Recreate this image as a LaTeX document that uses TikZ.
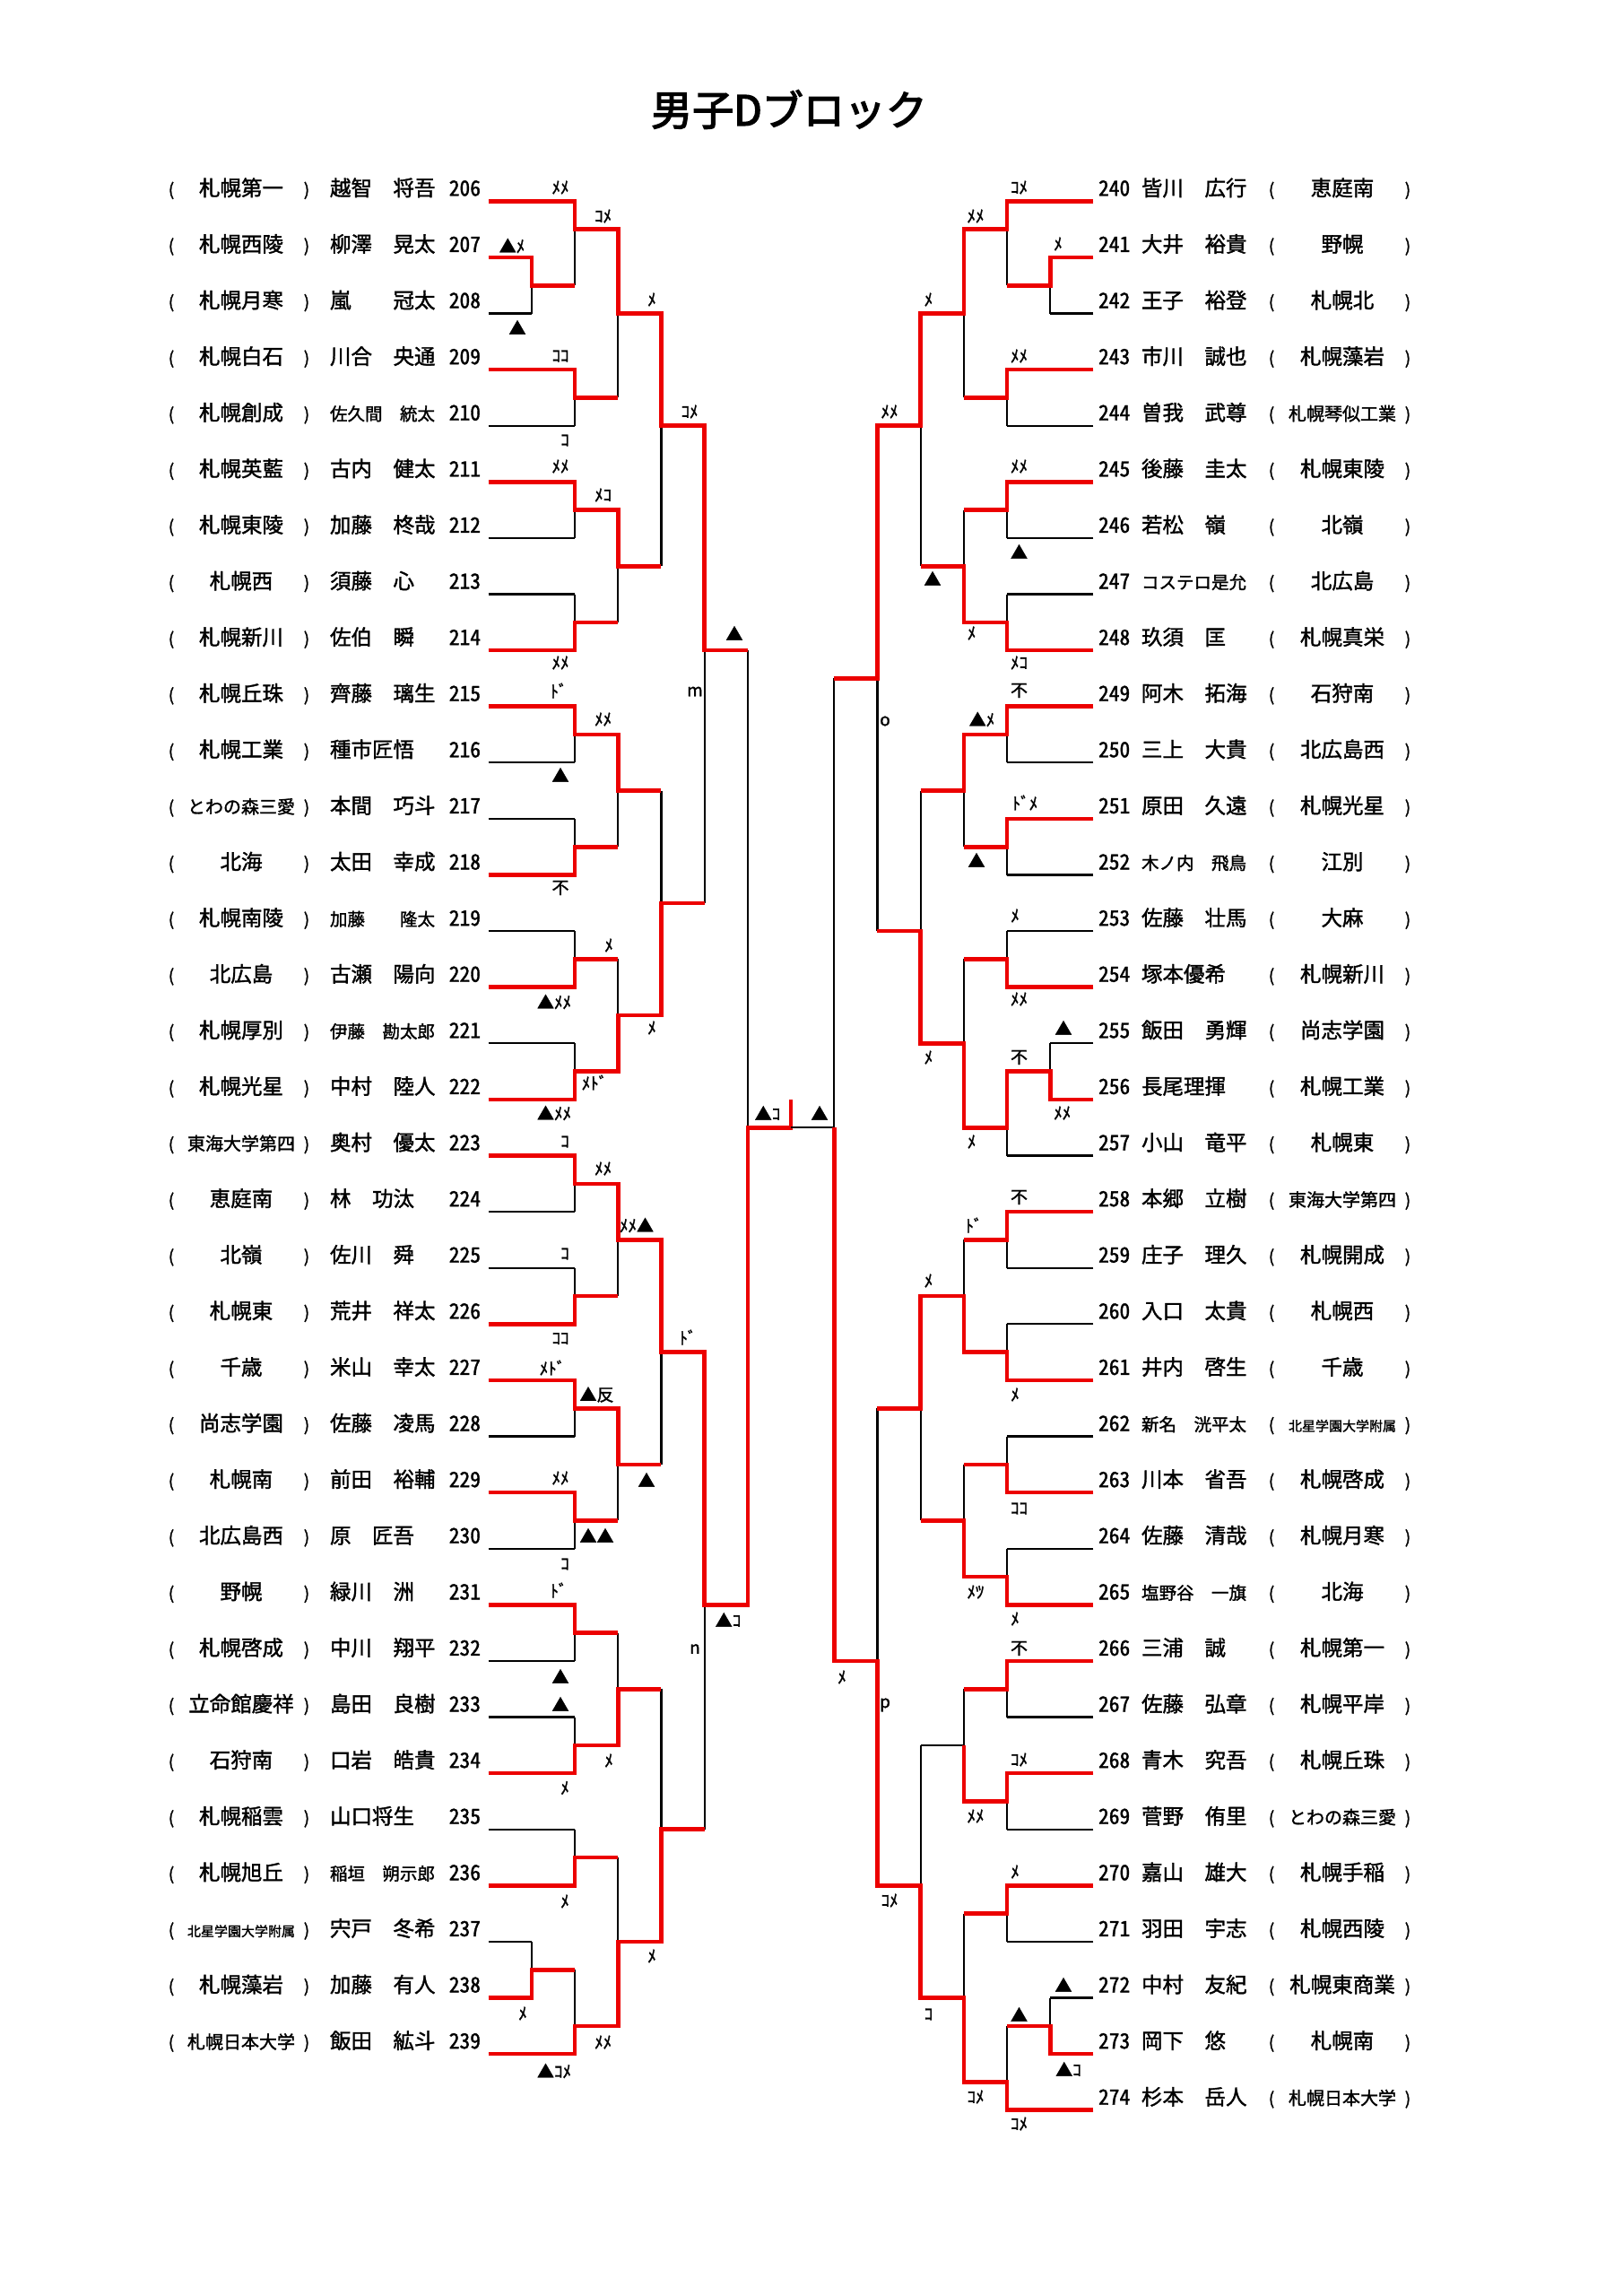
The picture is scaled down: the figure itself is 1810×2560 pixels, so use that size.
\documentclass[tikz,border=0pt]{standalone}
\usepackage{fontspec}
\setmainfont{Noto Sans CJK JP}[FakeBold=1.5]
\newfontfamily\numfont[RawFeature=+hwid,FakeBold=1.5]{Noto Sans CJK JP}
\newfontfamily\titlefont[FakeBold=3]{Noto Sans CJK JP}
\definecolor{redc}{RGB}{236,0,0}
\tikzset{
  rd/.style={draw=redc, line width=2.3pt, line join=miter},
  blk/.style={draw=black, line width=1.1pt},
  tx/.style={inner sep=0pt, outer sep=0pt},
  lbl/.style={inner sep=0pt, outer sep=0pt, anchor=center, font=\fontsize{9.5pt}{10pt}\selectfont},
}
\newcommand\lrow[5]{%
  \pgfmathsetmacro\yy{224.3+62.6*(#1-206)-6}
  \node[tx,anchor=base,font=\fontsize{9.5pt}{10pt}\selectfont] (lpo#1) at (191,\yy) {(};
  \node[tx,anchor=base,font=\fontsize{#2}{#2}\selectfont] (lsc#1) at (269,\yy) {#3};
  \node[tx,anchor=base,font=\fontsize{9.5pt}{10pt}\selectfont] (lpc#1) at (342,\yy) {)};
  \node[tx,anchor=base west,font=\fontsize{#4}{#4}\selectfont] (lnm#1) at (368,\yy) {#5};
  \node[tx,anchor=base east,font=\numfont\fontsize{11.75pt}{12pt}\selectfont] (lno#1) at (536,\yy) {#1};
}
\newcommand\rrow[5]{%
  \pgfmathsetmacro\yy{224.3+62.6*(#1-240)-6}
  \node[tx,anchor=base west,font=\numfont\fontsize{11.75pt}{12pt}\selectfont] (rno#1) at (1225,\yy) {#1};
  \node[tx,anchor=base west,font=\fontsize{#2}{#2}\selectfont] (rnm#1) at (1273,\yy) {#3};
  \node[tx,anchor=base,font=\fontsize{9.5pt}{10pt}\selectfont] (rpo#1) at (1418,\yy) {(};
  \node[tx,anchor=base,font=\fontsize{#4}{#4}\selectfont] (rsc#1) at (1497,\yy) {#5};
  \node[tx,anchor=base,font=\fontsize{9.5pt}{10pt}\selectfont] (rpc#1) at (1570,\yy) {)};
}
\begin{document}
\begin{tikzpicture}[x=0.5pt,y=-0.5pt]
\useasboundingbox (0,0) rectangle (1810,2560);
\fill[white] (0,0) rectangle (1810,2560);

\node[tx,font=\titlefont\fontsize{23pt}{24pt}\selectfont] (title) at (880,122) {男子Dブロック};

% ---------------- LEFT BRACKET ----------------
\begin{scope}[shift={(882,224.3)},x=-24.1pt,y=-15.65pt]
\foreach \k/\p in {0/5,2/6,4/6,6/5,8/5,10/5,12/5,14/5,16/5,18/5,20/5,22/5,24/5,26/5,28/5,30/5,32/5,34/5,36/5,38/5,40/5,42/5,44/5,46/5,48/5,50/5,52/5,54/5,56/5,58/5,60/5,62/6,64/6,66/5}
  \draw[blk] (7,\k) -- (\p,\k);
\foreach \p/\a/\b/\o in {6/2/4/3, 6/62/64/63,
  5/0/3/1, 5/6/8/7, 5/10/12/11, 5/14/16/15, 5/18/20/19, 5/22/24/23, 5/26/28/27, 5/30/32/31,
  5/34/36/35, 5/38/40/39, 5/42/44/43, 5/46/48/47, 5/50/52/51, 5/54/56/55, 5/58/60/59, 5/63/66/65,
  4/1/7/4, 4/11/15/13, 4/19/23/21, 4/27/31/29, 4/35/39/37, 4/43/47/45, 4/51/55/53, 4/59/65/62,
  3/4/13/8, 3/21/29/25, 3/37/45/41, 3/53/62/58,
  2/8/25/16, 2/41/58/50,
  1/16/50/33}
  \draw[blk] (\p,\a) -- (\p,\b) (\p,\o) -- ({\p-1},\o);
\draw[rd] (7,0) -- (5,0) -- (5,1) -- (4,1) -- (4,4) -- (3,4) -- (3,8) -- (2,8) -- (2,16) -- (1,16);
\draw[rd] (7,2) -- (6,2) -- (6,3) -- (5,3);
\draw[rd] (7,6) -- (5,6) -- (5,7) -- (4,7);
\draw[rd] (7,10) -- (5,10) -- (5,11) -- (4,11) -- (4,13) -- (3,13);
\draw[rd] (7,16) -- (5,16) -- (5,15) -- (4,15);
\draw[rd] (7,18) -- (5,18) -- (5,19) -- (4,19) -- (4,21) -- (3,21);
\draw[rd] (7,24) -- (5,24) -- (5,23) -- (4,23);
\draw[rd] (7,28) -- (5,28) -- (5,27) -- (4,27);
\draw[rd] (7,32) -- (5,32) -- (5,31) -- (4,31) -- (4,29) -- (3,29) -- (3,25) -- (2,25);
\draw[rd] (7,34) -- (5,34) -- (5,35) -- (4,35) -- (4,37) -- (3,37) -- (3,41) -- (2,41) -- (2,50) -- (1,50) -- (1,33) -- (0,33) -- (0,32);
\draw[rd] (7,40) -- (5,40) -- (5,39) -- (4,39);
\draw[rd] (7,42) -- (5,42) -- (5,43) -- (4,43) -- (4,45) -- (3,45);
\draw[rd] (7,46) -- (5,46) -- (5,47) -- (4,47);
\draw[rd] (7,50) -- (5,50) -- (5,51) -- (4,51);
\draw[rd] (7,56) -- (5,56) -- (5,55) -- (4,55) -- (4,53) -- (3,53);
\draw[rd] (7,60) -- (5,60) -- (5,59) -- (4,59);
\draw[rd] (7,64) -- (6,64) -- (6,63) -- (5,63);
\draw[rd] (7,66) -- (5,66) -- (5,65) -- (4,65) -- (4,62) -- (3,62) -- (3,58) -- (2,58);
\end{scope}

% ---------------- RIGHT BRACKET ----------------
\begin{scope}[shift={(882,224.3)},x=24.1pt,y=-15.65pt]
\foreach \k/\q in {0/5,2/6,4/6,6/5,8/5,10/5,12/5,14/5,16/5,18/5,20/5,22/5,24/5,26/5,28/5,30/6,32/6,34/5,36/5,38/5,40/5,42/5,44/5,46/5,48/5,50/5,52/5,54/5,56/5,58/5,60/5,62/5,64/6,66/6,68/5}
  \draw[blk] (7,\k) -- (\q,\k);
\foreach \p/\a/\b/\o in {6/2/4/3, 6/30/32/31, 6/64/66/65,
  5/0/3/1, 5/6/8/7, 5/10/12/11, 5/14/16/15, 5/18/20/19, 5/22/24/23, 5/26/28/27, 5/31/34/33,
  5/36/38/37, 5/40/42/41, 5/44/46/45, 5/48/50/49, 5/52/54/53, 5/56/58/57, 5/60/62/61, 5/65/68/67,
  4/1/7/4, 4/11/15/13, 4/19/23/21, 4/27/33/30, 4/37/41/39, 4/45/49/47, 4/53/57/55, 4/61/67/64,
  3/4/13/8, 3/21/30/26, 3/39/47/43, 3/55/64/60,
  2/8/26/17, 2/43/60/52,
  1/17/52/33}
  \draw[blk] (\p,\a) -- (\p,\b) (\p,\o) -- ({\p-1},\o);
\draw[rd] (7,0) -- (5,0) -- (5,1) -- (4,1) -- (4,4) -- (3,4) -- (3,8) -- (2,8) -- (2,17) -- (1,17);
\draw[rd] (7,2) -- (6,2) -- (6,3) -- (5,3);
\draw[rd] (7,6) -- (5,6) -- (5,7) -- (4,7);
\draw[rd] (7,10) -- (5,10) -- (5,11) -- (4,11);
\draw[rd] (7,16) -- (5,16) -- (5,15) -- (4,15) -- (4,13) -- (3,13);
\draw[rd] (7,18) -- (5,18) -- (5,19) -- (4,19) -- (4,21) -- (3,21);
\draw[rd] (7,22) -- (5,22) -- (5,23) -- (4,23);
\draw[rd] (7,28) -- (5,28) -- (5,27) -- (4,27);
\draw[rd] (7,32) -- (6,32) -- (6,31) -- (5,31) -- (5,33) -- (4,33) -- (4,30) -- (3,30) -- (3,26) -- (2,26);
\draw[rd] (7,36) -- (5,36) -- (5,37) -- (4,37);
\draw[rd] (7,42) -- (5,42) -- (5,41) -- (4,41) -- (4,39) -- (3,39) -- (3,43) -- (2,43);
\draw[rd] (7,46) -- (5,46) -- (5,45) -- (4,45);
\draw[rd] (7,50) -- (5,50) -- (5,49) -- (4,49) -- (4,47) -- (3,47);
\draw[rd] (7,52) -- (5,52) -- (5,53) -- (4,53);
\draw[rd] (7,56) -- (5,56) -- (5,57) -- (4,57) -- (4,55);
\draw[rd] (7,60) -- (5,60) -- (5,61) -- (4,61);
\draw[rd] (7,66) -- (6,66) -- (6,65) -- (5,65);
\draw[rd] (7,68) -- (5,68) -- (5,67) -- (4,67) -- (4,64) -- (3,64) -- (3,60) -- (2,60) -- (2,52) -- (1,52) -- (1,33);
\end{scope}

% ---------------- LABELS ----------------
\foreach \x/\y/\t [count=\i] in {625/209/ﾒﾒ, 672.6/241/ｺﾒ, 571/274/▲ﾒ, 577/365/▲, 727/334/ﾒ, 625/397/ｺｺ, 630/491/ｺ, 769/459/ｺﾒ,
  625/520/ﾒﾒ, 672.6/552/ﾒｺ, 819/706/▲, 625/739/ﾒﾒ, 623/770/ﾄﾞ, 672.6/802/ﾒﾒ, 625/864/▲, 775/771/m,
  625/990/不, 679/1054/ﾒ, 618/1117/▲ﾒﾒ, 727/1146/ﾒ, 663/1207/ﾒﾄﾞ, 618/1241/▲ﾒﾒ, 630/1273/ｺ, 672.6/1303/ﾒﾒ,
  710/1366/ﾒﾒ▲, 630/1398/ｺ, 625/1492.5/ｺｺ, 767/1491/ﾄﾞ, 616/1525/ﾒﾄﾞ, 665.5/1555/▲反, 625/1648/ﾒﾒ, 721/1650/▲,
  665.5/1712/▲▲, 630/1744/ｺ, 623/1773/ﾄﾞ, 812/1806/▲ｺ, 775/1838.5/n, 625/1869/▲, 625/1900/▲, 679/1963/ﾒ,
  630/1993.5/ﾒ, 630/2120/ﾒ, 727/2181/ﾒ, 583/2245/ﾒ, 672.6/2277/ﾒﾒ, 618/2309/▲ｺﾒ, 856/1241/▲ｺ}
  \node[lbl] (ll\i) at (\x,\y) {\t};
\foreach \x/\y/\t [count=\i] in {1136.5/209/ｺﾒ, 1088/241/ﾒﾒ, 1180/272/ﾒ, 1035.5/334/ﾒ, 1136.5/397/ﾒﾒ, 992/459/ﾒﾒ,
  1136.5/520/ﾒﾒ, 1136.5/615/▲, 1040/645/▲, 1083.6/706/ﾒ, 1136.5/739/ﾒｺ, 1136.5/770/不, 1095/802/▲ﾒ, 987/804/o,
  1143/895/ﾄﾞﾒ, 1089/959/▲, 1132/1021/ﾒ, 1136.5/1114/ﾒﾒ, 1186/1146/▲, 1136.5/1179/不, 1035.5/1179/ﾒ,
  1184.7/1241/ﾒﾒ, 1083.6/1273/ﾒ, 1136.5/1335/不, 1086/1366/ﾄﾞ, 1035.5/1428/ﾒ, 1132/1555/ﾒ, 1136.5/1682/ｺｺ,
  1088/1775/ﾒﾂ, 1132/1805/ﾒ, 1136.5/1838/不, 939/1870/ﾒ, 987/1901/p, 1136.5/1962/ｺﾒ, 1088/2025/ﾒﾒ,
  1132/2087/ﾒ, 992/2119/ｺﾒ, 1186/2213/▲, 1136.5/2246/▲, 1035.5/2246/ｺ, 1191.5/2307/▲ｺ, 1088/2338/ｺﾒ,
  1136.5/2368/ｺﾒ, 914/1241/▲}
  \node[lbl] (rl\i) at (\x,\y) {\t};

% ---------------- LEFT ROWS ----------------
\lrow{206}{11.75pt}{札幌第一}{11.75pt}{越智　将吾}
\lrow{207}{11.75pt}{札幌西陵}{11.75pt}{柳澤　晃太}
\lrow{208}{11.75pt}{札幌月寒}{11.75pt}{嵐　　冠太}
\lrow{209}{11.75pt}{札幌白石}{11.75pt}{川合　央通}
\lrow{210}{11.75pt}{札幌創成}{9.75pt}{佐久間　統太}
\lrow{211}{11.75pt}{札幌英藍}{11.75pt}{古内　健太}
\lrow{212}{11.75pt}{札幌東陵}{11.75pt}{加藤　柊哉}
\lrow{213}{11.75pt}{札幌西}{11.75pt}{須藤　心}
\lrow{214}{11.75pt}{札幌新川}{11.75pt}{佐伯　瞬}
\lrow{215}{11.75pt}{札幌丘珠}{11.75pt}{齊藤　璃生}
\lrow{216}{11.75pt}{札幌工業}{11.75pt}{種市匠悟}
\lrow{217}{10pt}{とわの森三愛}{11.75pt}{本間　巧斗}
\lrow{218}{11.75pt}{北海}{11.75pt}{太田　幸成}
\lrow{219}{11.75pt}{札幌南陵}{9.75pt}{加藤　　隆太}
\lrow{220}{11.75pt}{北広島}{11.75pt}{古瀬　陽向}
\lrow{221}{11.75pt}{札幌厚別}{9.75pt}{伊藤　勘太郎}
\lrow{222}{11.75pt}{札幌光星}{11.75pt}{中村　陸人}
\lrow{223}{10pt}{東海大学第四}{11.75pt}{奥村　優太}
\lrow{224}{11.75pt}{恵庭南}{11.75pt}{林　功汰}
\lrow{225}{11.75pt}{北嶺}{11.75pt}{佐川　舜}
\lrow{226}{11.75pt}{札幌東}{11.75pt}{荒井　祥太}
\lrow{227}{11.75pt}{千歳}{11.75pt}{米山　幸太}
\lrow{228}{11.75pt}{尚志学園}{11.75pt}{佐藤　凌馬}
\lrow{229}{11.75pt}{札幌南}{11.75pt}{前田　裕輔}
\lrow{230}{11.75pt}{北広島西}{11.75pt}{原　匠吾}
\lrow{231}{11.75pt}{野幌}{11.75pt}{緑川　洲}
\lrow{232}{11.75pt}{札幌啓成}{11.75pt}{中川　翔平}
\lrow{233}{11.75pt}{立命館慶祥}{11.75pt}{島田　良樹}
\lrow{234}{11.75pt}{石狩南}{11.75pt}{口岩　皓貴}
\lrow{235}{11.75pt}{札幌稲雲}{11.75pt}{山口将生}
\lrow{236}{11.75pt}{札幌旭丘}{9.75pt}{稲垣　朔示郎}
\lrow{237}{7.5pt}{北星学園大学附属}{11.75pt}{宍戸　冬希}
\lrow{238}{11.75pt}{札幌藻岩}{11.75pt}{加藤　有人}
\lrow{239}{10pt}{札幌日本大学}{11.75pt}{飯田　絋斗}

% ---------------- RIGHT ROWS ----------------
\rrow{240}{11.75pt}{皆川　広行}{11.75pt}{恵庭南}
\rrow{241}{11.75pt}{大井　裕貴}{11.75pt}{野幌}
\rrow{242}{11.75pt}{王子　裕登}{11.75pt}{札幌北}
\rrow{243}{11.75pt}{市川　誠也}{11.75pt}{札幌藻岩}
\rrow{244}{11.75pt}{曽我　武尊}{10pt}{札幌琴似工業}
\rrow{245}{11.75pt}{後藤　圭太}{11.75pt}{札幌東陵}
\rrow{246}{11.75pt}{若松　嶺}{11.75pt}{北嶺}
\rrow{247}{9.75pt}{コステロ是允}{11.75pt}{北広島}
\rrow{248}{11.75pt}{玖須　匡}{11.75pt}{札幌真栄}
\rrow{249}{11.75pt}{阿木　拓海}{11.75pt}{石狩南}
\rrow{250}{11.75pt}{三上　大貴}{11.75pt}{北広島西}
\rrow{251}{11.75pt}{原田　久遠}{11.75pt}{札幌光星}
\rrow{252}{9.75pt}{木ノ内　飛鳥}{11.75pt}{江別}
\rrow{253}{11.75pt}{佐藤　壮馬}{11.75pt}{大麻}
\rrow{254}{11.75pt}{塚本優希}{11.75pt}{札幌新川}
\rrow{255}{11.75pt}{飯田　勇輝}{11.75pt}{尚志学園}
\rrow{256}{11.75pt}{長尾理揮}{11.75pt}{札幌工業}
\rrow{257}{11.75pt}{小山　竜平}{11.75pt}{札幌東}
\rrow{258}{11.75pt}{本郷　立樹}{10pt}{東海大学第四}
\rrow{259}{11.75pt}{庄子　理久}{11.75pt}{札幌開成}
\rrow{260}{11.75pt}{入口　太貴}{11.75pt}{札幌西}
\rrow{261}{11.75pt}{井内　啓生}{11.75pt}{千歳}
\rrow{262}{9.75pt}{新名　洸平太}{7.5pt}{北星学園大学附属}
\rrow{263}{11.75pt}{川本　省吾}{11.75pt}{札幌啓成}
\rrow{264}{11.75pt}{佐藤　清哉}{11.75pt}{札幌月寒}
\rrow{265}{9.75pt}{塩野谷　一旗}{11.75pt}{北海}
\rrow{266}{11.75pt}{三浦　誠}{11.75pt}{札幌第一}
\rrow{267}{11.75pt}{佐藤　弘章}{11.75pt}{札幌平岸}
\rrow{268}{11.75pt}{青木　究吾}{11.75pt}{札幌丘珠}
\rrow{269}{11.75pt}{菅野　侑里}{10pt}{とわの森三愛}
\rrow{270}{11.75pt}{嘉山　雄大}{11.75pt}{札幌手稲}
\rrow{271}{11.75pt}{羽田　宇志}{11.75pt}{札幌西陵}
\rrow{272}{11.75pt}{中村　友紀}{11.75pt}{札幌東商業}
\rrow{273}{11.75pt}{岡下　悠}{11.75pt}{札幌南}
\rrow{274}{11.75pt}{杉本　岳人}{10pt}{札幌日本大学}
\end{tikzpicture}
\end{document}
